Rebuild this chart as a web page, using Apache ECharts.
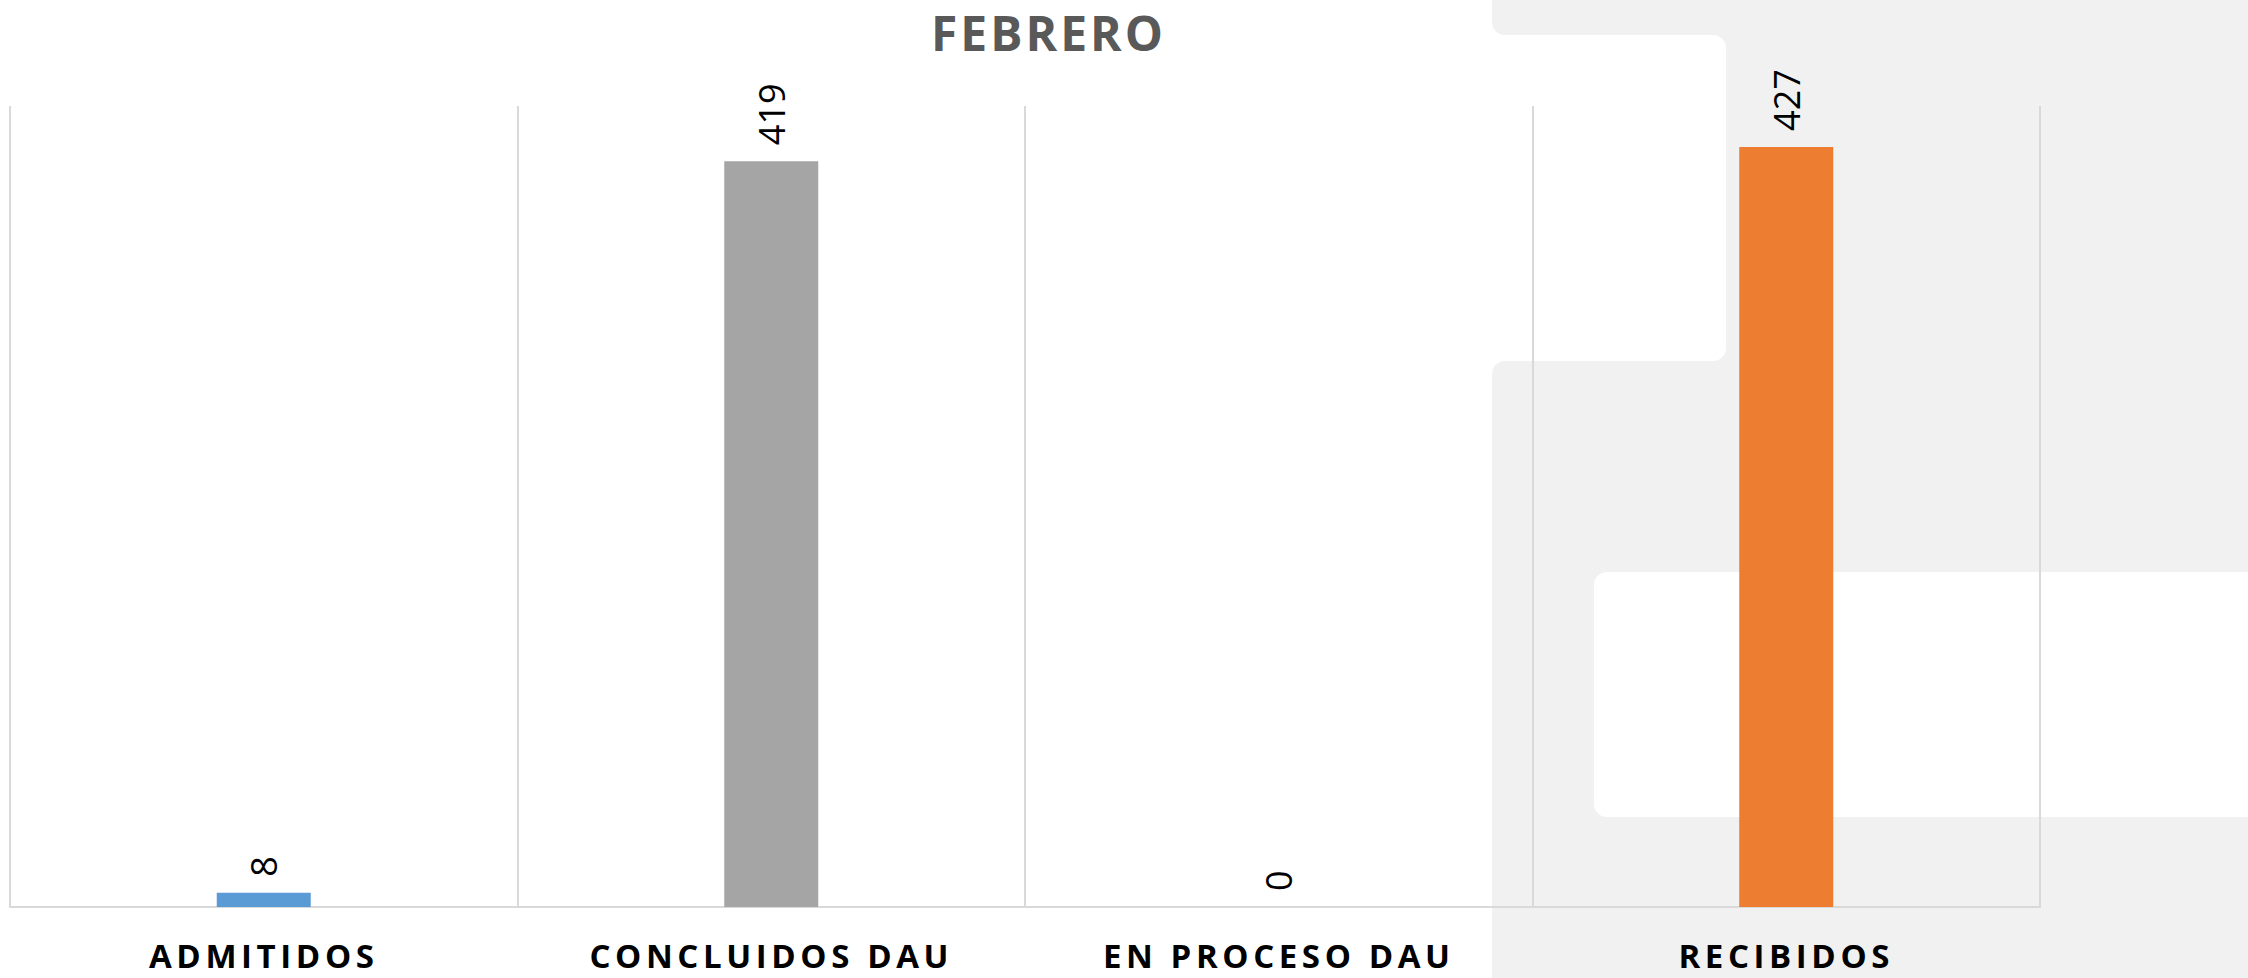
<!DOCTYPE html>
<html>
<head>
<meta charset="utf-8">
<script src="https://cdn.jsdelivr.net/npm/echarts@6/dist/echarts.min.js"></script>
<style>
  html, body { margin: 0; padding: 0; background: #ffffff; }
  #chart { width: 2248px; height: 978px; }
  /* títulos y categorías en negrita llevan espaciado entre letras */
  #chart text[style*="bold"] { letter-spacing: 4.6px; }
  #chart text[style*="48px"] { letter-spacing: 3px; }
</style>
</head>
<body>
<div id="chart"></div>
<script>
// datos del mes
const categorias = ["ADMITIDOS", "CONCLUIDOS DAU", "EN PROCESO DAU", "RECIBIDOS"];
const valores = [8, 419, 0, 427];
const titulo = "FEBRERO";

const coloresBarras = ["#5b9bd5", "#a5a5a5", "#ffc000", "#ed7d31"];
const gris = "#f0f1f0";

const chart = echarts.init(document.getElementById("chart"), null, { renderer: "svg" });

const option = {
  backgroundColor: "#ffffff",
  title: {
    text: titulo,
    left: 931,
    top: 6,
    padding: 0,
    textStyle: {
      fontFamily: "Open Sans",
      fontSize: 48,
      lineHeight: 52,
      fontWeight: "bold",
      color: "#595959"
    }
  },
  // fondo: panel gris con recortes blancos redondeados
  graphic: [
    { type: "rect", z: -20, shape: { x: 1492, y: -20, width: 800, height: 55, r: [0, 0, 0, 13] }, style: { fill: gris } },
    { type: "rect", z: -20, shape: { x: 1700, y: 0, width: 600, height: 978 }, style: { fill: gris } },
    { type: "rect", z: -20, shape: { x: 1492, y: 361, width: 800, height: 640, r: [13, 0, 0, 0] }, style: { fill: gris } },
    { type: "rect", z: -19, shape: { x: 1470, y: 35, width: 256, height: 326, r: [0, 13, 13, 0] }, style: { fill: "#ffffff" } },
    { type: "rect", z: -19, shape: { x: 1594, y: 572, width: 700, height: 245, r: [13, 0, 0, 13] }, style: { fill: "#ffffff" } }
  ],
  grid: {
    left: 10,
    right: 208,
    top: 106,
    bottom: 71
  },
  xAxis: {
    type: "category",
    data: categorias,
    axisLine: { lineStyle: { color: "#d9d9d9", width: 2 } },
    axisTick: { show: false },
    splitLine: { show: true, lineStyle: { color: "#d9d9d9", width: 2 } },
    axisLabel: {
      margin: 32,
      fontFamily: "Open Sans",
      fontSize: 33,
      lineHeight: 33,
      fontWeight: "bold",
      color: "#000000"
    }
  },
  yAxis: {
    type: "value",
    min: 0,
    max: 450,
    show: false,
    splitLine: { show: false }
  },
  series: [
    {
      type: "bar",
      barWidth: 94,
      data: valores.map((v, i) => ({ value: v, itemStyle: { color: coloresBarras[i] } })),
      label: {
        show: true,
        position: "top",
        rotate: 90,
        align: "left",
        verticalAlign: "middle",
        distance: 16,
        fontFamily: "Open Sans",
        fontSize: 36,
        color: "#000000"
      }
    }
  ]
};

chart.setOption(option);
</script>
</body>
</html>
